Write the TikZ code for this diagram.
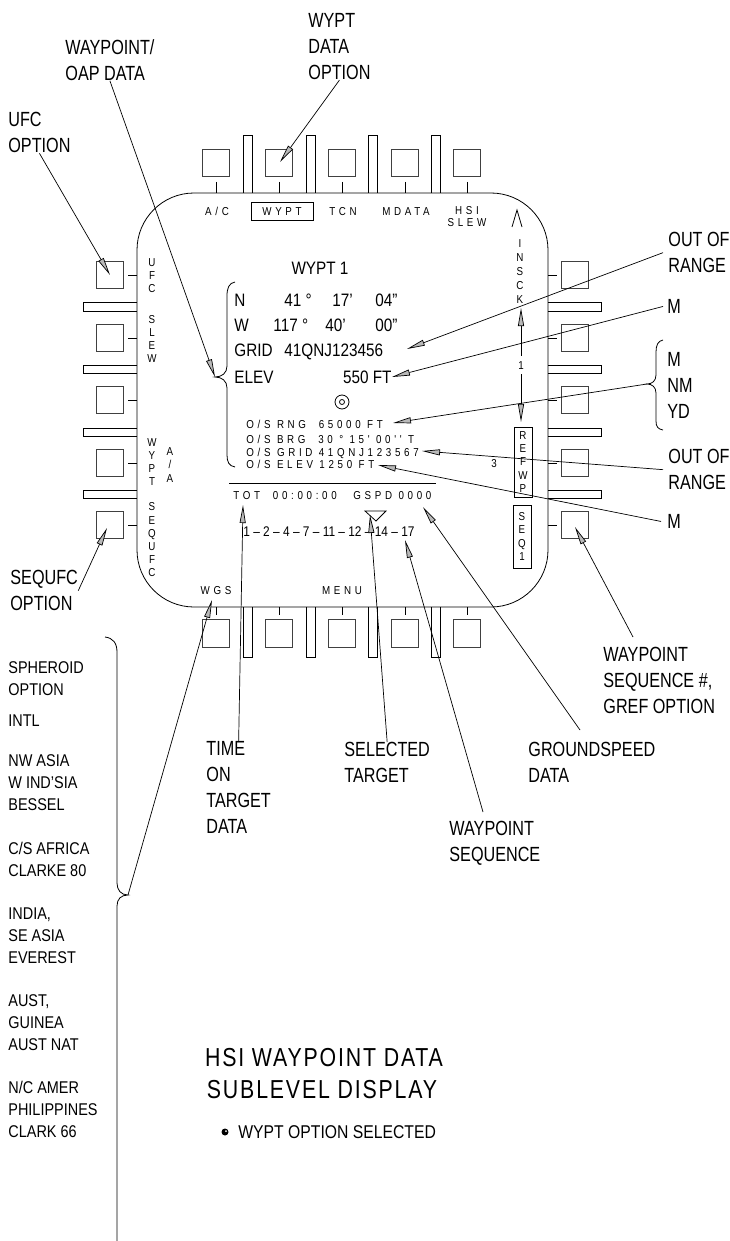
\documentclass[tikz,border=0pt]{standalone}
\usepackage{fontspec}
\setmainfont{Liberation Sans}[FakeStretch=0.85]
\newfontfamily\calf{Liberation Sans}[FakeStretch=0.79]
\newfontfamily\scrf{Liberation Sans}[FakeStretch=0.85,LetterSpace=32]
\newfontfamily\titlef{Liberation Sans}[FakeStretch=0.82,LetterSpace=7]
\usetikzlibrary{arrows.meta}
\begin{document}
\begin{tikzpicture}[x=1pt,y=-1pt,line width=0.8pt,
  btn/.style={draw=black!75,line width=0.9pt},
  callout/.style={line width=0.7pt,-{Triangle[length=18pt,width=6pt,fill=gray!55]}},
  lbl/.style={font=\calf\fontsize{20.5}{26}\selectfont,align=left,anchor=north west,inner sep=0pt},
  sph/.style={font=\fontsize{17}{22}\selectfont,align=left,anchor=north west,inner sep=0pt},
  big/.style={font=\fontsize{18}{20}\selectfont,inner sep=0pt,text height=12.9pt,text depth=0pt,anchor=west},
  sm/.style={font=\scrf\fontsize{11.5}{13}\selectfont,inner sep=0pt,text height=8.2pt,text depth=0pt},
  stk/.style={font=\fontsize{11.5}{13.2}\selectfont,align=center,inner sep=0pt},
]
\useasboundingbox (0,0) rectangle (729,1241);

% ---- display outline
\draw[rounded corners=57pt] (137,193) rectangle (548,607);

% ---- top and bottom buttons
\foreach \x in {216,279,342,405,467} {
  \draw[btn] (\x-13.5,149) rectangle (\x+13.5,176);
  \draw (\x,182) -- (\x,193);
  \draw[btn] (\x-13.5,619) rectangle (\x+13.5,647);
  \draw (\x,607) -- (\x,615);
}
\foreach \x in {248,311,373,436} {
  \draw (\x-4.5,193) -- (\x-4.5,135) -- (\x+4.5,135) -- (\x+4.5,193);
  \draw (\x-4.5,607) -- (\x-4.5,657) -- (\x+4.5,657) -- (\x+4.5,607);
}
% ---- side buttons
\foreach \y in {275,338,400,463,525} {
  \draw[btn] (96,\y-13.5) rectangle (123,\y+13.5);
  \draw (128,\y) -- (137,\y);
  \draw[btn] (561,\y-13.5) rectangle (588,\y+13.5);
  \draw (548,\y) -- (557,\y);
}
\foreach \y in {307,369.5,432.5,494.5} {
  \draw (137,\y-4.2) -- (83,\y-4.2) -- (83,\y+4.2) -- (137,\y+4.2);
  \draw (548,\y-4.2) -- (601,\y-4.2) -- (601,\y+4.2) -- (548,\y+4.2);
}

% ---- top legends
\node[sm] (ac) at (217,211) {A/C};
\node[sm,draw,minimum width=62pt,minimum height=18pt] (wyptsel) at (282,211) {WYPT};
\node[sm] (tcn) at (343,211) {TCN};
\node[sm] (mdata) at (406,211) {MDATA};
\node[sm] (hsi) at (467,210) {HSI};
\node[sm] (slew) at (467,222) {SLEW};
\draw (512,227) -- (517,210) -- (522,227);

% ---- side legends
\node[stk] (ufcv) at (152,275.5) {U\\F\\C};
\node[stk] (slewv) at (152,339) {S\\L\\E\\W};
\node[stk] (wyptv) at (152,462) {W\\Y\\P\\T};
\node[stk] (aav) at (170,465) {A\\/\\A};
\node[stk] (sequfcv) at (152,540) {S\\E\\Q\\U\\F\\C};
\node[stk,font=\fontsize{11.5}{13.8}\selectfont] (insck) at (520,271.5) {I\\N\\S\\C\\K};
\node[stk,draw,minimum width=18pt,minimum height=70pt] (refwp) at (523,462) {R\\E\\F\\W\\P};
\node[stk,draw,minimum width=18pt,minimum height=63pt] (seq1) at (522,536.5) {S\\E\\Q\\1};
\node[sm,outer sep=5pt] (one) at (521,365) {1};
\coordinate (insckTip) at (521,308);
\coordinate (refTip) at (521,422);
\draw[callout] (one) -- (insckTip);
\draw[callout] (one) -- (refTip);
\node[sm] (three) at (494,463) {3};

% ---- waypoint data
\node[font=\fontsize{18}{20}\selectfont,inner sep=0pt,text height=12.9pt,text depth=0pt] (wypt1) at (320,268) {WYPT 1};
\node[big] (nN) at (234,300) {N};
\node[big] (nD) at (284,300) {41 °};
\node[big] (nM) at (332,300) {17'};
\node[big] (nS) at (375,300) {04''};
\node[big] (wW) at (234,325) {W};
\node[big] (wD) at (273,325) {117 °};
\node[big] (wM) at (325,325) {40'};
\node[big] (wS) at (375,325) {00''};
\node[big] (gridl) at (234,350) {GRID};
\node[big] (gridv) at (284,350) {41QNJ123456};
\node[big] (elevl) at (234,377) {ELEV};
\node[big,anchor=east] (elevv) at (392,377) {550 FT};
\draw (342,402) circle (7);
\draw (342,402) circle (2.5);
\node[sm,anchor=west] (os1) at (246,424) {O/S RNG\ \ 65000 FT};
\node[sm,anchor=west] (os2) at (246,439) {O/S BRG\ \ 30 ° 15' 00'' T};
\node[sm,anchor=west] (os3) at (246,452) {O/S GRID 41QNJ123567};
\node[sm,anchor=west] (os4) at (246,464) {O/S ELEV 1250 FT};
\coordinate (bTip) at (215,377);
\draw (235,282) .. controls (229,283) and (227,288) .. (227,296) -- (227,366)
  .. controls (227,373) and (222,377) .. (bTip)
  .. controls (222,377) and (227,381) .. (227,388) -- (227,455)
  .. controls (227,462) and (229,466) .. (235,467);

\draw (229,483) -- (436,483);
\node[sm,anchor=west] (tot) at (233,495) {TOT\ \ 00:00:00};
\node[sm,anchor=west] (gspd) at (353,495) {GSPD 0000};
\draw (365,511) -- (386,511) -- (376,521) -- cycle;
\node[font=\fontsize{14}{16}\selectfont,inner sep=0pt,text height=10pt,text depth=0pt,anchor=west] (seqnums) at (243,531) {1 -- 2 -- 4 -- 7 -- 11 -- 12 -- 14 -- 17};
\node[sm] (wgs) at (216,590) {WGS};
\node[sm] (menu) at (342,590) {MENU};

% ---- callout labels
\node[lbl] (wdo) at (308,13) {WYPT\\DATA\\OPTION};
\node[lbl] (oap) at (65,39) {WAYPOINT/\\OAP DATA};
\node[lbl] (ufcopt) at (8,112) {UFC\\OPTION};
\node[lbl] (seqopt) at (10,570) {SEQUFC\\OPTION};
\node[lbl] (totl) at (206,741) {TIME\\ON\\TARGET\\DATA};
\node[lbl] (selt) at (344,742) {SELECTED\\TARGET};
\node[lbl] (wps) at (449,821) {WAYPOINT\\SEQUENCE};
\node[lbl] (gsd) at (528,742) {GROUNDSPEED\\DATA};
\node[lbl] (wsg) at (603,647) {WAYPOINT\\SEQUENCE \#,\\GREF OPTION};
\node[lbl] (oor1) at (668,232) {OUT OF\\RANGE};
\node[lbl] (m1) at (667,299) {M};
\node[lbl] (mnm) at (667,352) {M\\NM\\YD};
\node[lbl] (oor2) at (668,449) {OUT OF\\RANGE};
\node[lbl] (m2) at (667,514) {M};

% ---- spheroid list
\node[sph] (sph1) at (8,661) {SPHEROID\\OPTION};
\node[sph] (sph2) at (8,714) {INTL};
\node[sph] (sph3) at (8,754) {NW ASIA\\W IND'SIA\\BESSEL};
\node[sph] (sph4) at (8,842) {C/S AFRICA\\CLARKE 80};
\node[sph] (sph5) at (8,907) {INDIA,\\SE ASIA\\EVEREST};
\node[sph] (sph6) at (8,994) {AUST,\\GUINEA\\AUST NAT};
\node[sph] (sph7) at (8,1081) {N/C AMER\\PHILIPPINES\\CLARK 66};
\coordinate (sTip) at (128,895);
\draw (105,637) .. controls (113,638) and (117,643) .. (117,652) -- (117,883)
  .. controls (117,890) and (121,895) .. (sTip)
  .. controls (121,895) and (117,899) .. (117,906) -- (117,1241);

% ---- right brace
\coordinate (rTip) at (647,384);
\draw (663,340) .. controls (658,341) and (656,345) .. (656,352) -- (656,375)
  .. controls (656,381) and (652,384) .. (rTip)
  .. controls (652,384) and (656,387) .. (656,393) -- (656,421)
  .. controls (656,427) and (658,429) .. (663,430);

% ---- callout connectors
\coordinate (tWDO) at (280,162);
\coordinate (tUFC) at (110,275);
\coordinate (tSEQ) at (107,528);
\coordinate (tWGS) at (212,600);
\coordinate (tTOT) at (243,505);
\coordinate (tSEL) at (370,515);
\coordinate (sWPS) at (483,812);
\coordinate (tWPS) at (405,540);
\coordinate (sGSD) at (580,730);
\coordinate (tGSD) at (423,507);
\coordinate (sWSG) at (633,637);
\coordinate (tWSG) at (575,527);
\coordinate (tOOR1) at (407,349);
\coordinate (tM1) at (392,377);
\coordinate (tMNM) at (393,423);
\coordinate (tOOR2) at (422,451);
\coordinate (tM2) at (378,465);
\draw[callout] (wdo.south) -- (tWDO);
\draw[callout] (oap.south) -- (bTip);
\draw[callout] (ufcopt.south) -- (tUFC);
\draw[callout] (seqopt.east) -- (tSEQ);
\draw[callout] (sTip) -- (tWGS);
\draw[callout] (totl.north) -- (tTOT);
\draw[callout] (selt.north) -- (tSEL);
\draw[callout] (sWPS) -- (tWPS);
\draw[callout] (sGSD) -- (tGSD);
\draw[callout] (sWSG) -- (tWSG);
\draw[callout] ([xshift=-5pt]oor1.west) -- (tOOR1);
\draw[callout] ([xshift=-4pt]m1.west) -- (tM1);
\draw[callout] (rTip) -- (tMNM);
\draw[callout] ([xshift=-5pt]oor2.west) -- (tOOR2);
\draw[callout] ([xshift=-6pt]m2.west) -- (tM2);

% ---- title
\node[font=\titlef\fontsize{26}{30}\selectfont,inner sep=0pt] (title1) at (324,1058) {HSI WAYPOINT DATA};
\node[font=\titlef\fontsize{26}{30}\selectfont,inner sep=0pt] (title2) at (322,1090) {SUBLEVEL DISPLAY};
\fill (225,1132) circle (3.5);
\fill[white] (226,1131) circle (1);
\node[font=\fontsize{18.5}{20}\selectfont,inner sep=0pt,text height=13.2pt,text depth=0pt,anchor=west] (selnote) at (238,1132) {WYPT OPTION SELECTED};
\end{tikzpicture}
\end{document}
